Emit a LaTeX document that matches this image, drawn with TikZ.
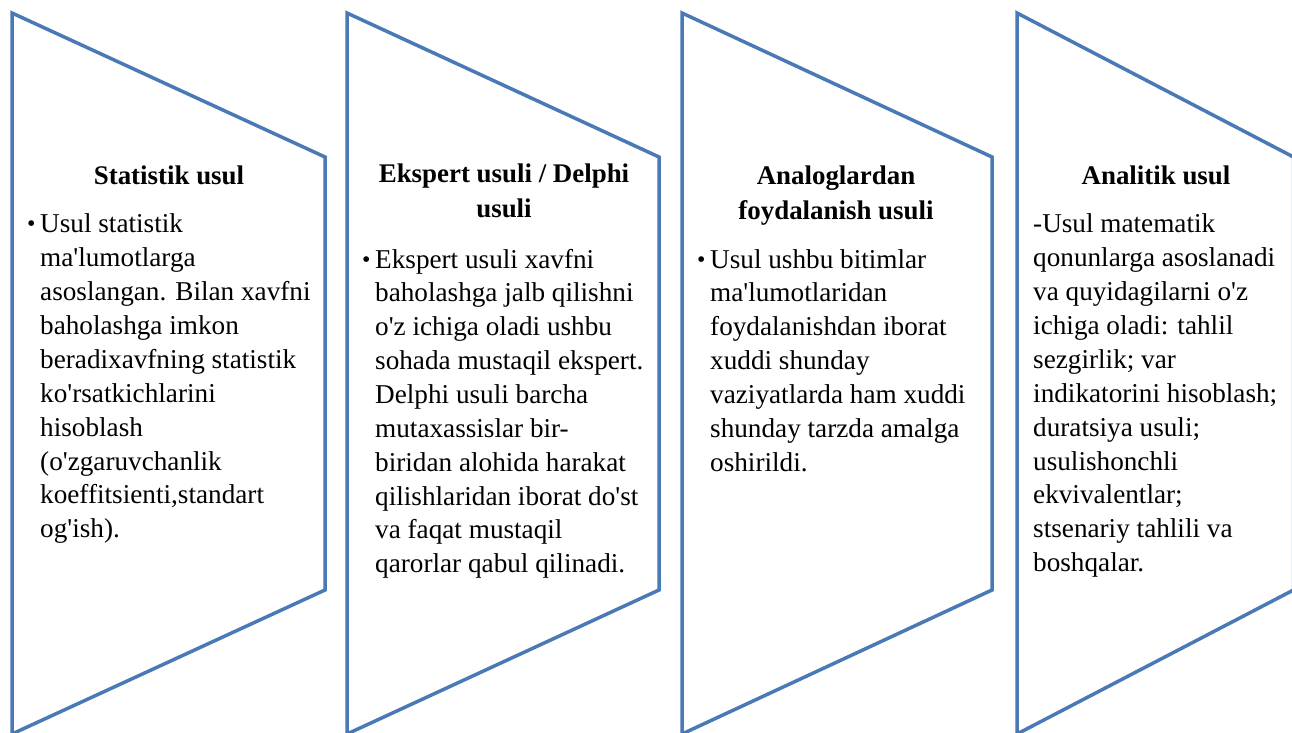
\documentclass[tikz,border=0pt]{standalone}
\usepackage{fontspec}
\newfontfamily\libser{Liberation Serif}
\definecolor{chevblue}{RGB}{74,122,181}
\newcommand{\chevron}[2]{%
  \draw[chevshape] (#1,13) -- (#2,157) -- (#2,590) -- (#1,734) -- cycle;}
\begin{document}
\begin{tikzpicture}[x=1bp,y=-1bp,
  chevshape/.style={draw=chevblue, line width=3.5bp, fill=white, line join=miter},
  ttl/.style={anchor=base, inner sep=0pt, font=\libser\fontsize{27}{35}\selectfont\bfseries},
  bodytxt/.style={anchor=base west, inner sep=0pt, font=\libser\fontsize{27.3}{34}\selectfont},
  bul/.style={anchor=base west, inner sep=0pt, font=\libser\fontsize{24}{34}\selectfont}]
\useasboundingbox (0,0) rectangle (1292,733);
\clip (0,0) rectangle (1292,733);
\fill[white] (0,0) rectangle (1292,733);
\chevron{12}{325}
\chevron{347}{659}
\chevron{682}{992}
\chevron{1017}{1293.5}
% titles
\node[ttl] (t1) at (169,185) {\parbox[t]{300bp}{\centering Statistik usul}};
\node[ttl] (t2) at (504,183) {\parbox[t]{300bp}{\centering Ekspert usuli / Delphi\\ usuli}};
\node[ttl] (t3) at (836,185) {\parbox[t]{300bp}{\centering Analoglardan\\ foydalanish usuli}};
\node[ttl] (t4) at (1156,185) {\parbox[t]{260bp}{\centering Analitik usul}};
% bullets
\node[bul] (b1) at (27,232) {•};
\node[bul] (b2) at (362,267) {•};
\node[bul] (b3) at (697,267) {•};
% bodies
\node[bodytxt] (x1) at (40,233) {\parbox[t]{320bp}{\raggedright
Usul statistik\\
ma'lumotlarga\\
asoslangan. Bilan xavfni\\
baholashga imkon\\
beradixavfning statistik\\
ko'rsatkichlarini\\
hisoblash\\
(o'zgaruvchanlik\\
koeffitsienti,standart\\
og'ish).}};
\node[bodytxt] (x2) at (375,268) {\parbox[t]{320bp}{\raggedright
Ekspert usuli xavfni\\
baholashga jalb qilishni\\
o'z ichiga oladi ushbu\\
sohada mustaqil ekspert.\\
Delphi usuli barcha\\
mutaxassislar bir-\\
biridan alohida harakat\\
qilishlaridan iborat do'st\\
va faqat mustaqil\\
qarorlar qabul qilinadi.}};
\node[bodytxt] (x3) at (710,268) {\parbox[t]{320bp}{\raggedright
Usul ushbu bitimlar\\
ma'lumotlaridan\\
foydalanishdan iborat\\
xuddi shunday\\
vaziyatlarda ham xuddi\\
shunday tarzda amalga\\
oshirildi.}};
\node[bodytxt] (x4) at (1033,233) {\parbox[t]{320bp}{\raggedright
-Usul matematik\\
qonunlarga asoslanadi\\
va quyidagilarni o'z\\
ichiga oladi: tahlil\\
sezgirlik; var\\
indikatorini hisoblash;\\
duratsiya usuli;\\
usulishonchli\\
ekvivalentlar;\\
stsenariy tahlili va\\
boshqalar.}};
\end{tikzpicture}
\end{document}
